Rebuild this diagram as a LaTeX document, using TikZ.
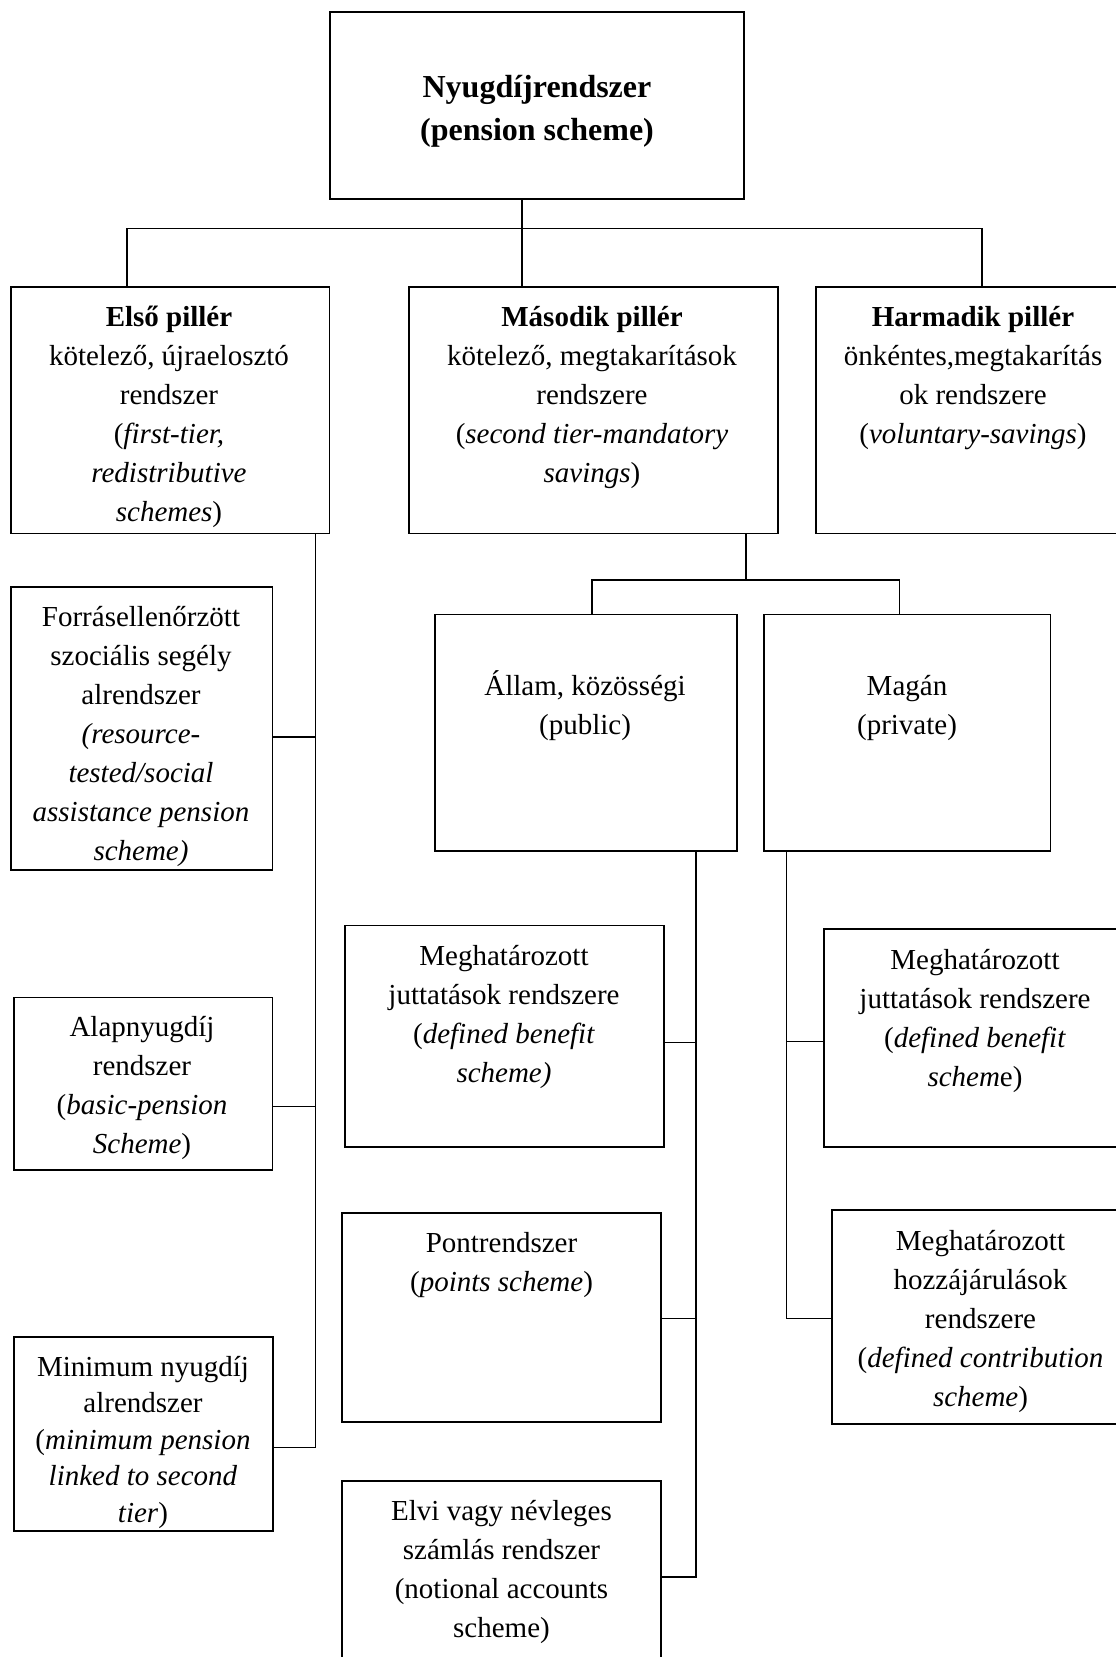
\documentclass[tikz,border=0pt]{standalone}
\usepackage{fontspec}
\setmainfont{Liberation Serif}
% strut that fixes the height of the first text line in every box
\newcommand\lnstrut{\rule{0pt}{30pt}}
\begin{document}
\begin{tikzpicture}[x=1pt,y=-1pt,
  box/.style={draw, line width=1.6pt, inner sep=0pt, outer sep=0pt},
  txt/.style={align=center, inner sep=0pt, anchor=north, font=\fontsize{29}{39}\selectfont},
  link/.style={line width=1.6pt}]
\useasboundingbox (0,0) rectangle (1116,1657);
\clip (0,0) rectangle (1116,1657);

% ---- boxes ----
\node[box, minimum width=414pt, minimum height=187pt]   (top)     at (537,105.5) {};
\node[box, minimum width=318.5pt, minimum height=246.5pt] (first)  at (170.25,410.25) {};
\node[box, minimum width=369pt, minimum height=246.5pt] (second)  at (593.5,410.25) {};
\node[box, minimum width=314pt, minimum height=246.5pt] (third)   at (973,410.25) {};
\node[box, minimum width=302pt, minimum height=236.5pt] (public)  at (586,732.75) {};
\node[box, minimum width=286.5pt, minimum height=236.5pt] (private) at (907.25,732.75) {};
\node[box, minimum width=261.5pt, minimum height=283pt] (forras)  at (141.75,728.5) {};
\node[box, minimum width=258.5pt, minimum height=172.5pt] (alap)  at (143.25,1083.75) {};
\node[box, minimum width=259pt, minimum height=194pt]   (minimum) at (143.5,1434) {};
\node[box, minimum width=319pt, minimum height=221.5pt] (pubdb)   at (504.5,1036.25) {};
\node[box, minimum width=319pt, minimum height=209pt]   (points)  at (501.5,1317.5) {};
\node[box, minimum width=319pt, minimum height=189pt]   (elvi)    at (501.5,1575.5) {};
\node[box, minimum width=304pt, minimum height=218pt]   (privdb)  at (976,1038) {};
\node[box, minimum width=298pt, minimum height=214pt]   (dc)      at (981,1317) {};

% ---- texts ----
\node[txt, font=\bfseries\fontsize{32}{43}\selectfont] (topT) at (537,64)
  {\rule{0pt}{33pt}Nyugdíjrendszer\\(pension scheme)};
\node[txt] (firstT) at (169,296)
  {\lnstrut\textbf{Első pillér}\\kötelező, újraelosztó\\rendszer\\(\textit{first-tier,}\\\textit{redistributive}\\\textit{schemes})};
\node[txt] (secondT) at (592,296)
  {\lnstrut\textbf{Második pillér}\\kötelező, megtakarítások\\rendszere\\(\textit{second tier-mandatory}\\\textit{savings})};
\node[txt] (thirdT) at (973,296)
  {\lnstrut\textbf{Harmadik pillér}\\önkéntes,megtakarítás\\ok rendszere\\(\textit{voluntary-savings})};
\node[txt] (publicT) at (585,665) {\lnstrut Állam, közösségi\\(public)};
\node[txt] (privateT) at (907,665) {\lnstrut Magán\\(private)};
\node[txt] (forrasT) at (141,596.5)
  {\lnstrut Forrásellenőrzött\\szociális segély\\alrendszer\\\textit{(resource-}\\\textit{tested/social}\\\textit{assistance pension}\\\textit{scheme)}};
\node[txt] (pubdbT) at (504,935)
  {\lnstrut Meghatározott\\juttatások rendszere\\(\textit{defined benefit}\\\textit{scheme)}};
\node[txt] (privdbT) at (975,939)
  {\lnstrut Meghatározott\\juttatások rendszere\\(\textit{defined benefit}\\\textit{schem}e)};
\node[txt] (alapT) at (142,1006)
  {\lnstrut Alapnyugdíj\\rendszer\\(\textit{basic-pension}\\\textit{Scheme})};
\node[txt] (pointsT) at (501.5,1222) {\lnstrut Pontrendszer\\(\textit{points scheme})};
\node[txt] (dcT) at (980.5,1220)
  {\lnstrut Meghatározott\\hozzájárulások\\rendszere\\(\textit{defined contribution}\\\textit{scheme})};
\node[txt, font=\fontsize{29}{36.5}\selectfont] (minimumT) at (143,1346)
  {\lnstrut Minimum nyugdíj\\alrendszer\\(\textit{minimum pension}\\\textit{linked to second}\\\textit{tier})};
\node[txt] (elviT) at (501.5,1490)
  {\lnstrut Elvi vagy névleges\\számlás rendszer\\(notional accounts\\scheme)};

% ---- first level bus ----
\coordinate (busM) at (522,228.5);
\coordinate (busL) at (126.7,228.5);
\coordinate (busR) at (982,228.5);
\draw[link] (busL |- first.north) -- (busL) -- (busR) -- (busR |- third.north);
\draw[link] (busM |- top.south) -- (busM |- second.north);

% ---- second pillar split ----
\coordinate (sub)  at (746,580);
\coordinate (subL) at (592,580);
\coordinate (subR) at (899.6,580);
\draw[link] (sub |- second.south) -- (sub);
\draw[link] (subL |- public.north) -- (subL) -- (subR) -- (subR |- private.north);

% ---- first pillar spine ----
\coordinate (jF) at (315.3,736.7);
\coordinate (jA) at (315.3,1106.4);
\coordinate (jM) at (315.3,1447.4);
\draw[link] (jF |- first.south) -- (jM) -- (minimum.east |- jM);
\draw[link] (forras.east |- jF) -- (jF);
\draw[link] (alap.east |- jA) -- (jA);

% ---- public spine ----
\coordinate (pB) at (696,1042.5);
\coordinate (pP) at (696,1318.5);
\coordinate (pE) at (696,1577);
\draw[link] (pB |- public.south) -- (pE) -- (elvi.east |- pE);
\draw[link] (pubdb.east |- pB) -- (pB);
\draw[link] (points.east |- pP) -- (pP);

% ---- private spine ----
\coordinate (qB) at (786.4,1041.3);
\coordinate (qC) at (786.4,1318.5);
\draw[link] (qB |- private.south) -- (qC) -- (dc.west |- qC);
\draw[link] (privdb.west |- qB) -- (qB);
\end{tikzpicture}
\end{document}
